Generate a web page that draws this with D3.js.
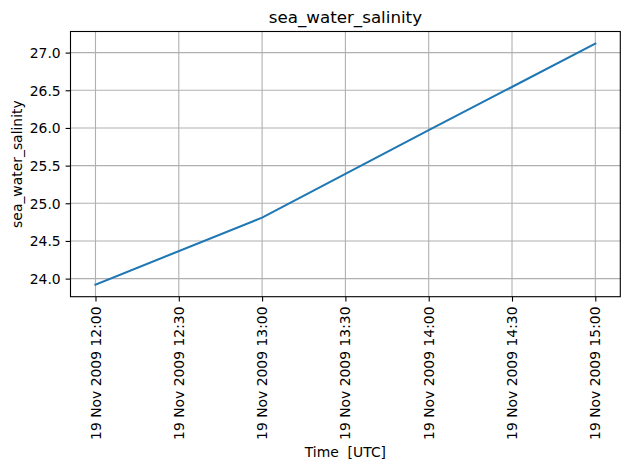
<!DOCTYPE html>
<html><head><meta charset="utf-8">
<script src="https://cdn.jsdelivr.net/npm/d3@7"></script>
<style>body{margin:0;background:#fff}svg{display:block}text{font-family:"DejaVu Sans",sans-serif;fill:#000}</style>
</head><body>
<svg id="c" width="630" height="469"></svg>
<script>
const times = ["2009-11-19T12:00:00Z","2009-11-19T13:00:00Z","2009-11-19T14:00:00Z","2009-11-19T15:00:00Z"];
const salinity = [23.92, 24.81, 25.97, 27.12];
const yTicks = [24.0, 24.5, 25.0, 25.5, 26.0, 26.5, 27.0];
const xTickTimes = ["2009-11-19T12:00:00Z","2009-11-19T12:30:00Z","2009-11-19T13:00:00Z","2009-11-19T13:30:00Z","2009-11-19T14:00:00Z","2009-11-19T14:30:00Z","2009-11-19T15:00:00Z"];
const title = "sea_water_salinity", yLabel = "sea_water_salinity", xLabel = "Time  [UTC]";

const svg = d3.select("#c");
const L = 70.5, R = 620.3, T = 31.5, B = 296.7;
const data = times.map((t,i)=>({t:new Date(t), v:salinity[i]}));
const t0 = data[0].t, t1 = data[data.length-1].t;
const span = t1 - t0;
const x = d3.scaleUtc().domain([new Date(+t0 - span*0.05), new Date(+t1 + span*0.05)]).range([L, R]);
const vmin = d3.min(salinity), vmax = d3.max(salinity), vr = vmax - vmin;
const y = d3.scaleLinear().domain([vmin - vr*0.05, vmax + vr*0.05]).range([B, T]);
const fmt = d3.utcFormat("%d %b %Y %H:%M");
const xt = xTickTimes.map(s=>new Date(s));

// grid
const g = svg.append("g");
g.selectAll(".gx").data(xt).join("line").attr("x1",d=>x(d)).attr("x2",d=>x(d)).attr("y1",T).attr("y2",B)
  .attr("stroke","#b0b0b0").attr("stroke-width",1.1);
g.selectAll(".gy").data(yTicks).join("line").attr("y1",d=>y(d)).attr("y2",d=>y(d)).attr("x1",L).attr("x2",R)
  .attr("stroke","#b0b0b0").attr("stroke-width",1.1);

// line
svg.append("path").datum(data).attr("fill","none").attr("stroke","#1f77b4").attr("stroke-width",2.08)
  .attr("stroke-linecap","square")
  .attr("d", d3.line().x(d=>x(d.t)).y(d=>y(d.v)));

// axes
const xa = svg.append("g").attr("transform",`translate(0,${B})`)
  .call(d3.axisBottom(x).tickValues(xt).tickSize(4.9).tickPadding(4.9).tickFormat(fmt));
xa.select(".domain").remove();
xa.selectAll(".tick line").attr("stroke","#000").attr("stroke-width",1.1);
xa.selectAll(".tick text").attr("font-size","13.9px").attr("font-family","DejaVu Sans")
  .attr("transform","rotate(-90)").attr("text-anchor","end").attr("x",-9.8).attr("y",0).attr("dy","0.33em");

const ya = svg.append("g").attr("transform",`translate(${L},0)`)
  .call(d3.axisLeft(y).tickValues(yTicks).tickSize(4.9).tickPadding(4.9).tickFormat(d3.format(".1f")));
ya.select(".domain").remove();
ya.selectAll(".tick line").attr("stroke","#000").attr("stroke-width",1.1);
ya.selectAll(".tick text").attr("font-size","13.9px").attr("font-family","DejaVu Sans").attr("dy","0.35em");

// frame
svg.append("rect").attr("x",L).attr("y",T).attr("width",R-L).attr("height",B-T)
  .attr("fill","none").attr("stroke","#000").attr("stroke-width",1.1);

// labels
svg.append("text").attr("x",(L+R)/2).attr("y",23.2).attr("text-anchor","middle").attr("font-size","16.7px").text(title);
svg.append("text").attr("transform",`translate(22,${(T+B)/2}) rotate(-90)`).attr("text-anchor","middle")
  .attr("font-size","13.9px").text(yLabel);
svg.append("text").attr("x",(L+R)/2).attr("y",457).attr("text-anchor","middle").attr("font-size","13.9px")
  .style("white-space","pre").text(xLabel);
</script>
</body></html>
